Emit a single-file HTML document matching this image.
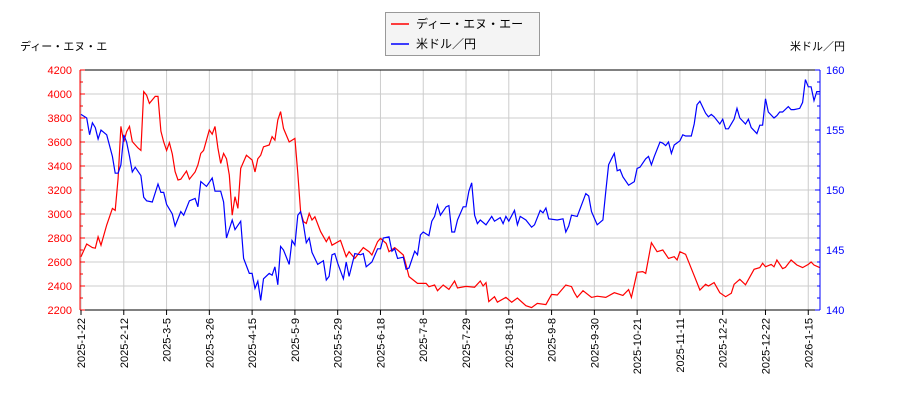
<!DOCTYPE html>
<html><head><meta charset="utf-8"><style>
body{margin:0;background:#fff;}
svg{display:block;font-family:"Liberation Sans","Noto Sans CJK JP",sans-serif;}
</style></head><body>
<svg id="chart" width="900" height="400"></svg>
<script>
const xTickLabels=["2025-1-22","2025-2-12","2025-3-5","2025-3-26","2025-4-15","2025-5-9","2025-5-29","2025-6-18","2025-7-8","2025-7-29","2025-8-19","2025-9-8","2025-9-30","2025-10-21","2025-11-11","2025-12-2","2025-12-22","2026-1-15"];
const xTickIdx=[0,15,30,45,60,75,90,105,120,135,150,165,180,195,210,225,240,255];
const leftTicks=[2200,2400,2600,2800,3000,3200,3400,3600,3800,4000,4200];
const rightTicks=[140,145,150,155,160];
const stockIdx=[0,2,4,5,6,7,9,11,12,13,14,15,16,17,18,20,21,22,23,24,26,27,28,29,30,31,32,33,34,35,37,38,40,41,42,43,45,46,47,48,49,50,51,52,53,54,55,56,58,60,61,62,63,64,66,67,68,69,70,71,73,75,76,77,78,79,80,81,82,84,86,87,88,91,93,94,96,99,101,102,104,105,107,108,110,111,113,114,115,118,121,122,124,125,127,129,131,132,135,138,140,141,142,143,145,146,149,151,153,156,158,160,163,165,167,170,172,173,174,176,179,181,184,187,190,192,193,195,197,198,199,200,202,204,206,208,209,210,212,215,217,219,220,222,224,226,228,229,231,233,236,238,239,240,242,243,244,246,247,249,251,253,255,256,257,259];
const stockVals=[2644,2750,2720,2715,2810,2740,2908,3047,3030,3297,3730,3600,3686,3730,3603,3550,3530,4020,3990,3922,3980,3980,3690,3600,3530,3594,3500,3353,3283,3290,3358,3290,3350,3408,3505,3530,3700,3665,3730,3550,3422,3505,3460,3325,2990,3144,3047,3380,3490,3450,3350,3460,3490,3560,3575,3645,3615,3783,3853,3713,3600,3630,3339,3019,2936,2922,3005,2950,2977,2853,2769,2810,2740,2780,2644,2686,2630,2720,2686,2658,2769,2797,2755,2686,2720,2700,2658,2575,2478,2422,2422,2394,2408,2361,2408,2372,2442,2383,2397,2390,2442,2400,2428,2270,2311,2265,2305,2265,2300,2236,2220,2255,2245,2330,2325,2408,2395,2344,2305,2361,2305,2315,2305,2344,2322,2370,2305,2514,2520,2505,2630,2761,2686,2700,2630,2644,2617,2686,2664,2486,2367,2414,2400,2428,2344,2311,2340,2414,2456,2410,2539,2553,2589,2560,2580,2560,2617,2545,2555,2617,2575,2553,2580,2600,2575,2553];
const fxIdx=[0,2,3,4,5,6,7,9,11,12,13,14,15,16,17,18,19,21,22,23,25,27,28,29,30,32,33,35,36,38,40,41,42,44,46,47,49,50,51,53,54,56,57,59,60,61,62,63,64,66,67,68,69,70,71,73,74,75,76,77,78,79,80,81,83,85,86,87,88,89,90,92,93,94,96,98,99,100,102,104,105,106,108,109,110,111,113,114,115,117,118,119,120,122,123,124,125,126,128,129,130,131,132,134,135,136,137,138,139,140,142,144,145,147,148,149,150,152,153,154,156,158,159,161,162,163,164,167,169,170,171,172,174,177,178,179,181,183,184,185,186,187,188,189,190,192,194,195,196,198,199,200,201,203,204,205,206,207,208,210,211,212,214,215,216,217,219,220,221,222,224,225,226,227,229,230,231,233,234,235,237,238,239,240,241,243,244,245,246,248,249,250,252,253,254,255,256,257,258,259];
const fxVals=[156.3,156.0,154.6,155.6,155.2,154.25,155.0,154.6,152.8,151.4,151.4,152.1,154.6,154.0,152.8,151.5,151.9,151.2,149.4,149.1,149.0,150.5,149.8,149.8,148.8,148.0,147.0,148.2,147.9,149.1,149.3,148.6,150.7,150.3,151.0,149.9,149.9,149.0,146.0,147.5,146.7,147.4,144.3,143.05,143.05,141.8,142.4,140.8,142.6,143.05,142.9,143.6,142.1,145.3,145.0,143.8,145.8,145.4,147.9,148.2,147.1,145.6,146.0,144.8,143.8,144.1,142.5,142.8,144.6,144.7,143.9,142.6,144.0,142.8,144.7,144.6,144.7,143.6,144.0,145.1,145.1,146.0,146.1,144.9,145.1,144.3,144.4,143.4,143.5,144.9,144.6,146.25,146.5,146.2,147.4,147.8,148.75,147.9,148.6,148.7,146.5,146.5,147.5,148.6,148.6,149.9,150.6,147.9,147.2,147.5,147.1,147.8,147.4,147.7,147.2,147.8,147.4,148.3,147.1,147.8,147.5,146.9,147.1,148.3,148.1,148.5,147.6,147.5,147.6,146.5,147.0,147.9,147.8,149.7,149.5,148.2,147.1,147.5,149.9,152.1,152.6,153.05,151.6,151.7,151.1,150.4,150.7,151.8,151.9,152.6,152.8,152.1,152.8,154.0,153.9,153.7,154.0,153.05,153.75,154.1,154.6,154.5,154.5,155.5,157.1,157.4,156.4,156.1,156.3,156.1,155.5,155.9,155.1,155.1,155.9,156.8,156.0,155.5,155.9,155.2,154.7,155.4,155.4,157.6,156.5,156.0,156.2,156.5,156.5,156.95,156.7,156.7,156.8,157.3,159.2,158.6,158.6,157.45,158.2,158.2];

const L=80,R=820,T=70,B=310;
const X=i=>81+i*2.852;
const YL=v=>B-(v-2200)/2000*(B-T);
const YR=v=>B-(v-140)/20*(B-T);
const svg=document.getElementById('chart');
const NS='http://www.w3.org/2000/svg';
function mk(tag,attrs,parent){const e=document.createElementNS(NS,tag);for(const k in attrs)e.setAttribute(k,attrs[k]);(parent||svg).appendChild(e);return e;}

const grid=mk('g',{});


leftTicks.forEach(v=>{mk('line',{x1:L,x2:R,y1:YL(v),y2:YL(v),stroke:'#ccc','stroke-width':1},grid);});
xTickIdx.forEach(i=>{mk('line',{x1:X(i),x2:X(i),y1:T,y2:B,stroke:'#ccc','stroke-width':1},grid);});

function series(idx,vals,yf,color,name){
  const pts=idx.map((d,k)=>X(d).toFixed(1)+','+yf(vals[k]).toFixed(1)).join(' ');
  const p=mk('polyline',{points:pts,fill:'none',stroke:color,'stroke-width':1.2});
  
  
}
series(stockIdx,stockVals,YL,'#f00','stock-price-line');
series(fxIdx,fxVals,YR,'#00f','usd-jpy-line');

mk('line',{x1:L,x2:R,y1:T,y2:T,stroke:'#000'});
mk('line',{x1:L,x2:R,y1:B,y2:B,stroke:'#000'});
const la=mk('line',{x1:L,x2:L,y1:T,y2:B,stroke:'#f00'});


const ra=mk('line',{x1:R,x2:R,y1:T,y2:B,stroke:'#00f'});



for(let v=2200;v<=4200;v+=100){mk('line',{x1:L,x2:L+(v%200?3:5),y1:YL(v),y2:YL(v),stroke:'#f00'});}
leftTicks.forEach(v=>{const t=mk('text',{x:L-8,y:YL(v)+4,'text-anchor':'end','font-size':11,fill:'#f00'});t.textContent=v;

});
for(let v=140;v<=160;v++){mk('line',{x1:R,x2:R-(v%5?3:5),y1:YR(v),y2:YR(v),stroke:'#00f'});}
rightTicks.forEach(v=>{const t=mk('text',{x:R+6,y:YR(v)+4,'font-size':11,fill:'#00f'});t.textContent=v;

});
xTickIdx.forEach((i,k)=>{const x=X(i);mk('line',{x1:x,x2:x,y1:B,y2:B+5,stroke:'#000'});
const t=mk('text',{transform:`translate(${x+4},${B+8}) rotate(-90)`,'text-anchor':'end','font-size':11,fill:'#000'});t.textContent=xTickLabels[k];

});

// legend
const lg=mk('g',{});


mk('rect',{x:385.5,y:12.5,width:154,height:43,fill:'#f4f4f4',stroke:'#999'},lg);
mk('line',{x1:391,x2:409,y1:24,y2:24,stroke:'#f00','stroke-width':1.5},lg);
const t1=mk('text',{x:416,y:28,'font-size':12,fill:'#000'},lg);t1.textContent='ディー・エヌ・エー';


mk('line',{x1:391,x2:409,y1:44,y2:44,stroke:'#00f','stroke-width':1.5},lg);
const t2=mk('text',{x:416,y:48,'font-size':12,fill:'#000'},lg);t2.textContent='米ドル／円';


</script>
<div style="position:absolute;left:20px;top:38px;font:11px 'Liberation Sans','Noto Sans CJK JP',sans-serif;color:#000">ディー・エヌ・エ</div>
<div style="position:absolute;left:790px;top:38px;font:11px 'Liberation Sans','Noto Sans CJK JP',sans-serif;color:#000">米ドル／円</div>
</body></html>
